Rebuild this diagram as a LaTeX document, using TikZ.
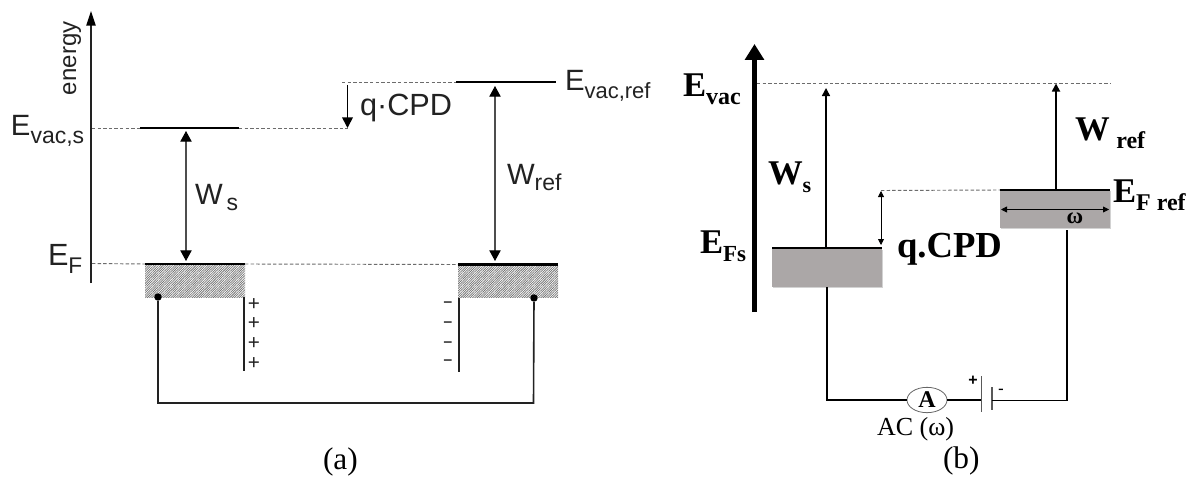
\documentclass[tikz,border=0pt]{standalone}
\usepackage{fontspec}
\setmainfont{Liberation Serif}
\setsansfont{Liberation Sans}
\usetikzlibrary{arrows.meta,patterns.meta,shadows,shapes.geometric}
\newcommand\fsz[1]{\fontsize{#1}{#1}\selectfont}
\newcommand\subtxt[3]{\raisebox{#1}{\fsz{#2}#3}}
\definecolor{ink}{HTML}{222222}
\definecolor{boxgrey}{HTML}{ABA7A7}
\tikzset{
  lab/.style={inner sep=0pt,outer sep=0pt,anchor=base west},
  sanslab/.style={lab,font=\sffamily,text=ink},
  seriflab/.style={lab,font=\bfseries,text=black},
  thinarrow/.style={draw=ink!80,line width=.8pt,{Triangle[length=8pt,width=8.5pt,color=black]}-{Triangle[length=8pt,width=8.5pt,color=black]}},
  level/.style={draw=black,line width=2.2pt},
  dashlevel/.style={draw=gray!85!black,line width=.7pt,dash pattern=on 2.6pt off 1.6pt},
  hatchbox/.style={inner sep=0pt,outer sep=0pt,minimum width=75pt,minimum height=24.75pt,
    pattern={Lines[angle=45,distance=1.25pt,line width=.55pt]},pattern color=gray!90!black},
  greybox/.style={inner sep=0pt,outer sep=0pt,minimum width=82.5pt,minimum height=29pt,fill=boxgrey,
    drop shadow={shadow xshift=1pt,shadow yshift=-1pt,fill=gray,opacity=.35}},
  wire/.style={draw=ink,line width=1.2pt},
  dotnode/.style={circle,fill=black,inner sep=0pt,minimum size=5.6pt},
  bwire/.style={draw=black,line width=1.2pt},
  minusmark/.style={inner sep=0pt,font=\sffamily\fsz{14},text=ink,xscale=1.7},
}
\begin{document}
\begin{tikzpicture}[x=.75pt,y=-.75pt]
\useasboundingbox[fill=white] (0,0) rectangle (1195,478);
% ---------- panel (a)
\coordinate (axb) at (91,283); \coordinate (axt) at (91,11);
\draw[draw=ink,line width=1pt,-{Triangle[length=11pt,width=7pt,color=black]}] (axb) -- (axt);
\node[sanslab,rotate=90,anchor=base west] (energy) at (76,95) {\fsz{18}energy};
\coordinate (l1) at (92,128); \coordinate (l2) at (140,128); \coordinate (l3) at (239,128); \coordinate (l4) at (348,128);
\draw[dashlevel] (l1)--(l2); \draw[dashlevel] (l3)--(l4); \draw[level] (l2)--(l3);
\coordinate (r1) at (342,82); \coordinate (r2) at (456,82); \coordinate (r3) at (556,82);
\draw[dashlevel] (r1)--(r2); \draw[level] (r2)--(r3);
\node[hatchbox] (hs) at (195,280.5) {};
\node[hatchbox] (hr) at (508,281) {};
\coordinate (f1) at (92,263.5);
\draw[dashlevel] (f1)--(hs.north west);
\draw[dashlevel] (hs.north east)--(hr.north west);
\draw[level] (hs.north west)--(hs.north east);
\draw[level] (hr.north west)--(hr.north east);
\coordinate (wst) at (186,131); \coordinate (wsb) at (186,261);
\draw[thinarrow] (wst)--(wsb);
\coordinate (wrt) at (495,86); \coordinate (wrb) at (495,261);
\draw[thinarrow] (wrt)--(wrb);
\coordinate (qt) at (347.5,85); \coordinate (qb) at (347.5,128);
\draw[draw=black,line width=1.3pt,-{Triangle[length=8pt,width=8pt]}] (qt)--(qb);
\node[dotnode] (ds) at (158,297) {};
\node[dotnode] (dr) at (534,298) {};
\coordinate (wl) at (158,403); \coordinate (wr) at (533.5,403);
\draw[wire] (ds)--(wl)--(wr)--(dr);
\coordinate (p1) at (244,297); \coordinate (p2) at (244,371);
\coordinate (m1) at (459,298); \coordinate (m2) at (459,372);
\draw[wire] (p1)--(p2); \draw[wire] (m1)--(m2);
\foreach \n/\y in {a/305,b/324.5,c/344,d/364}{
  \node[inner sep=0pt,font=\sffamily\fsz{15.5},text=ink] (plus\n) at (254,\y-.5) {+};
}
\foreach \n/\y in {a/305,b/325,c/345,d/363}{
  \node[minusmark] (minus\n) at (448,\y) {-};
}
\node[sanslab] (evs) at (11,135) {\fsz{22}E\subtxt{-6pt}{17.25}{vac,s}};
\node[sanslab] (evr) at (565,90) {\fsz{22}E\subtxt{-6pt}{16.5}{vac,ref}};
\node[sanslab] (ef) at (48,265) {\fsz{23}E\subtxt{-6pt}{17}{F}};
\node[sanslab] (ws) at (195,204) {\fsz{22}W\hspace{3pt}\subtxt{-5pt}{17.25}{s}};
\node[sanslab] (wr2) at (507,184) {\fsz{22}W\subtxt{-5pt}{17.25}{ref}};
\node[sanslab] (qc) at (360,115) {\fsz{23}q·CPD};
\node[lab,text=black] (capa) at (323,469) {\fsz{23.5}(a)};
% ---------- panel (b)
\coordinate (bxb) at (754.5,312); \coordinate (bxt) at (754.5,44);
\draw[draw=black,line width=3.6pt,-{Triangle[length=12pt,width=14pt,sep=0pt]}] (bxb)--(bxt);
\coordinate (e1) at (757,83.5); \coordinate (e2) at (1110,83.5);
\draw[dashlevel] (e1)--(e2);
\node[greybox] (rs) at (827,267.5) {};
\node[greybox,minimum height=28.5pt] (rr) at (1055,209) {};
\draw[draw=black,line width=1.4pt] (rs.north west)--(rs.north east);
\draw[draw=black,line width=1.4pt] (rr.north west)--(rr.north east);
\coordinate (cpdd) at (881,190.5);
\draw[dashlevel] (cpdd)--(rr.north west);
\coordinate (cpt) at (881,191); \coordinate (cpb) at (881,245);
\draw[draw=black,line width=.6pt,{Triangle[length=4.5pt,width=4.5pt]}-{Triangle[length=4.5pt,width=4.5pt]}] (cpt)--(cpb);
\coordinate (wsbb) at (826,247); \coordinate (wstt) at (826,88);
\draw[draw=black,line width=1.1pt,-{Triangle[length=6pt,width=6pt]}] (wsbb)--(wstt);
\coordinate (wrbb) at (1056,189); \coordinate (wrtt) at (1056,83.5);
\draw[draw=black,line width=1.3pt,-{Triangle[length=6pt,width=6pt]}] (wrbb)--(wrtt);
\coordinate (oml) at (1001,209.5); \coordinate (omr) at (1109,209.5);
\draw[draw=black,line width=.6pt,{Triangle[length=4.5pt,width=4.5pt]}-{Triangle[length=4.5pt,width=4.5pt]}] (oml)--(omr);
\node[inner sep=0pt,font=\bfseries\fsz{17}] (om) at (1075,218) {ω};
\node[ellipse,draw=gray!80!black,line width=.6pt,fill=white,minimum width=30pt,minimum height=19pt,inner sep=0pt,outer sep=0pt,font=\bfseries\fsz{18}] (am) at (927,400) {A};
\coordinate (bw1) at (981.5,400);
\coordinate (bp1t) at (981.5,376); \coordinate (bp1b) at (981.5,412);
\coordinate (bp2t) at (992,387); \coordinate (bp2b) at (992,410);
\coordinate (bw2) at (992,400.5); \coordinate (bw3) at (1067,400.5); \coordinate (bw4) at (1067,230);
\draw[bwire] (rs.south)|-(am.west);
\draw[bwire] (am.east)--(bw1);
\draw[draw=gray!70!black,line width=.8pt] (bp1t)--(bp1b);
\draw[draw=gray!70!black,line width=.8pt] (bp2t)--(bp2b);
\draw[bwire] (bw2)--(bw3)--(bw4);
\node[inner sep=0pt,font=\sffamily\bfseries\fsz{12}] (bplus) at (973,381) {+};
\node[inner sep=0pt,font=\sffamily\fsz{13}] (bminus) at (1001,392) {-};
\node[seriflab] (ev) at (683,96) {\fsz{26}E\subtxt{-6pt}{18}{vac}};
\node[seriflab] (wsb2) at (768,184) {\fsz{26}W\subtxt{-6pt}{16.5}{s}};
\node[seriflab] (efs) at (700,253) {\fsz{26}E\subtxt{-6pt}{17.25}{Fs}};
\node[seriflab] (qcpd) at (897,257) {\fsz{27.5}q.CPD};
\node[seriflab] (wrefb) at (1075,140) {\fsz{26}W\hspace{5pt}\subtxt{-6.5pt}{18}{ref}};
\node[seriflab] (efr) at (1113,202) {\fsz{26}E\subtxt{-6pt}{18}{F ref}};
\node[lab,text=black] (acw) at (877,435) {\fsz{19.5}AC (ω)};
\node[lab,text=black] (capb) at (943,468) {\fsz{23.5}(b)};
\end{tikzpicture}
\end{document}
